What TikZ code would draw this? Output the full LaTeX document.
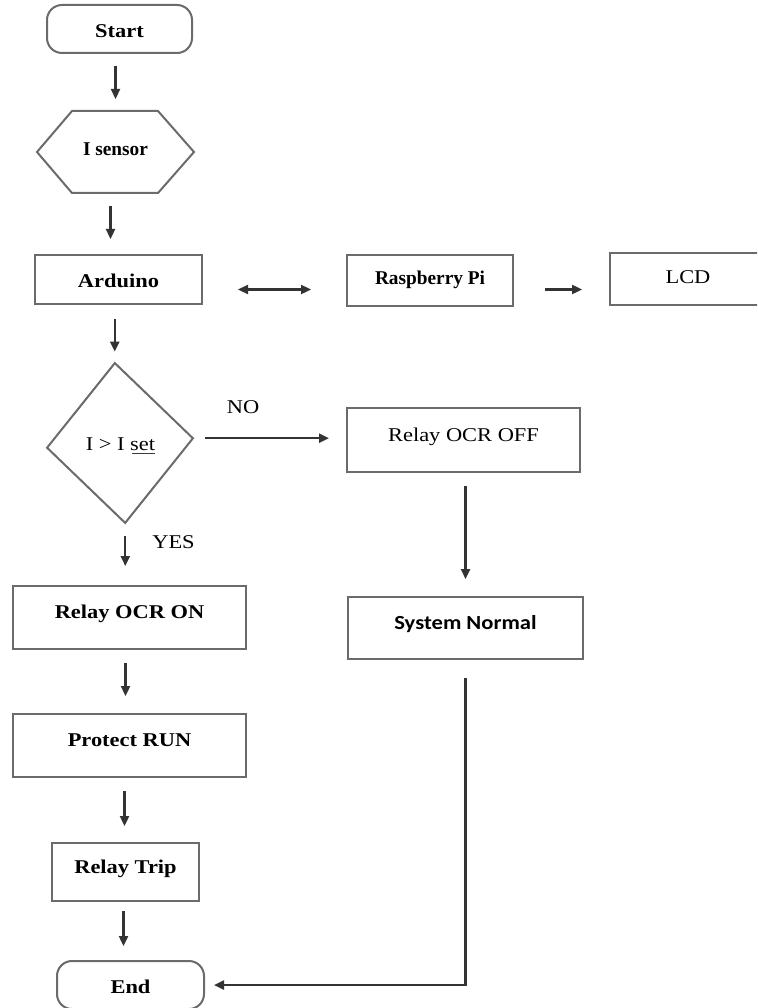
\documentclass[tikz,border=0pt]{standalone}
\usepackage{fontspec}
\setmainfont{Liberation Serif}[FakeStretch=1.15]
\newfontfamily\narrowserif{Liberation Serif}[FakeStretch=0.99]
\newfontfamily\sysfont{Carlito}[FakeStretch=1.13]
\usetikzlibrary{arrows.meta,shapes.geometric,calc}
\begin{document}
\begin{tikzpicture}[x=1pt,y=-1pt,
  box/.style={draw=black!58, line width=2pt, rectangle, inner sep=0pt,
    font=\fontsize{19.5}{23}\selectfont, text height=12pt, text depth=4pt},
  tall/.style={text height=12pt, text depth=10pt},
  term/.style={box, rounded corners=15pt, text height=17pt, text depth=0pt},
  hexline/.style={draw=black!58, line width=2pt, line join=miter},
  arr/.style={draw=black!80, line width=2.3pt, -{Triangle[length=10pt,width=9pt]}},
  dbl/.style={draw=black!80, line width=2.3pt, {Triangle[length=10pt,width=9pt]}-{Triangle[length=10pt,width=9pt]}},
  lab/.style={font=\fontsize{19.5}{23}\selectfont, inner sep=0pt}
]
\clip (0,0) rectangle (757,1008);
\fill[white] (0,0) rectangle (757,1008);

% left column
\node[term, minimum width=145pt, minimum height=48pt] (start) at (119.5,29) {\textbf{Start}};
\node[box, draw=none, minimum width=155pt, minimum height=80pt] (sensor) at (115.5,152) {\narrowserif\bfseries I sensor};
\draw[hexline] (sensor.west) -- ([xshift=35pt]sensor.north west) -- ([xshift=-36pt]sensor.north east)
  -- (sensor.east) -- ([xshift=-36pt]sensor.south east) -- ([xshift=35pt]sensor.south west) -- cycle;
\node[box, minimum width=167pt, minimum height=49pt, text height=15pt, text depth=0pt] (arduino) at (118.5,279.5) {\textbf{Arduino}};
\node[box, minimum width=166pt, minimum height=51pt] (rpi) at (430,280.5) {\narrowserif\bfseries Raspberry Pi};
\node[box, minimum width=156pt, minimum height=52pt] (lcd) at (688,279) {LCD};

\node[diamond, draw=black!58, line width=2pt, minimum width=147pt, minimum height=161pt,
  inner sep=0pt, rotate=3.7] (dec) at (120,443) {};
\node[lab] (dectext) at (120.5,444) {I > I set};
\draw[blue!80!cyan, line width=1.2pt] ([yshift=-3pt]dectext.south east) -- ([xshift=-23pt,yshift=-3pt]dectext.south east);
\node[lab] (nolab) at (243,407) {NO};
\node[lab] (yeslab) at (173.5,542.5) {YES};

\node[box, tall, minimum width=233pt, minimum height=64pt] (relayoff) at (463.5,440) {Relay OCR OFF};
\node[box, tall, minimum width=235pt, minimum height=62pt,
  font={\fontsize{20}{24}\selectfont\sysfont\bfseries}] (system) at (465.5,628) {System Normal};

\node[box, tall, minimum width=233pt, minimum height=63pt] (relayon) at (129.5,617.5) {\textbf{Relay OCR ON}};
\node[box, tall, minimum width=233pt, minimum height=63pt] (protect) at (129.5,745.5) {\textbf{Protect RUN}};
\node[box, tall, minimum width=147pt, minimum height=58pt] (trip) at (125.5,872) {\textbf{Relay Trip}};
\node[term, minimum width=147pt, minimum height=48pt] (end) at (130.5,985) {\textbf{End}};

% connectors
\draw[arr, shorten <=12pt, shorten >=12pt] (sensor.north |- start.south) -- (sensor.north);
\draw[arr, shorten <=13pt, shorten >=15pt] ([xshift=-5pt]sensor.south) -- ([xshift=-5pt]sensor.south |- arduino.north);
\draw[dbl, shorten <=35pt, shorten >=35pt] ([yshift=-10pt]arduino.east) -- ([yshift=-10pt]arduino.east -| rpi.west);
\draw[arr, shorten <=31pt, shorten >=27pt] ([yshift=-9pt]rpi.east) -- ([yshift=-9pt]rpi.east -| lcd.west);
\draw[arr, shorten <=14pt, shorten >=10pt] (arduino.south -| dec.north) -- (dec.north);
\draw[arr, shorten <=11pt, shorten >=17pt] (dec.east) -- (dec.east -| relayoff.west);
\draw[arr, shorten <=12pt, shorten >=19pt] (dec.south) -- (dec.south |- relayon.north);
\draw[arr, shorten <=13pt, shorten >=17pt] ([xshift=-4pt]relayon.south) -- ([xshift=-4pt]relayon.south |- protect.north);
\draw[arr, shorten <=13pt, shorten >=16pt] ([xshift=-5pt]protect.south) -- ([xshift=-5pt]protect.south |- trip.north);
\draw[arr, shorten <=9pt, shorten >=14pt] ([xshift=-2pt]trip.south) -- ([xshift=-2pt]trip.south |- end.north);
\draw[arr, shorten <=13pt, shorten >=17pt] (relayoff.south -| system.south) -- (system.north);
\draw[arr, shorten <=18pt, shorten >=9pt] (system.south) |- (end.east);
\end{tikzpicture}
\end{document}
